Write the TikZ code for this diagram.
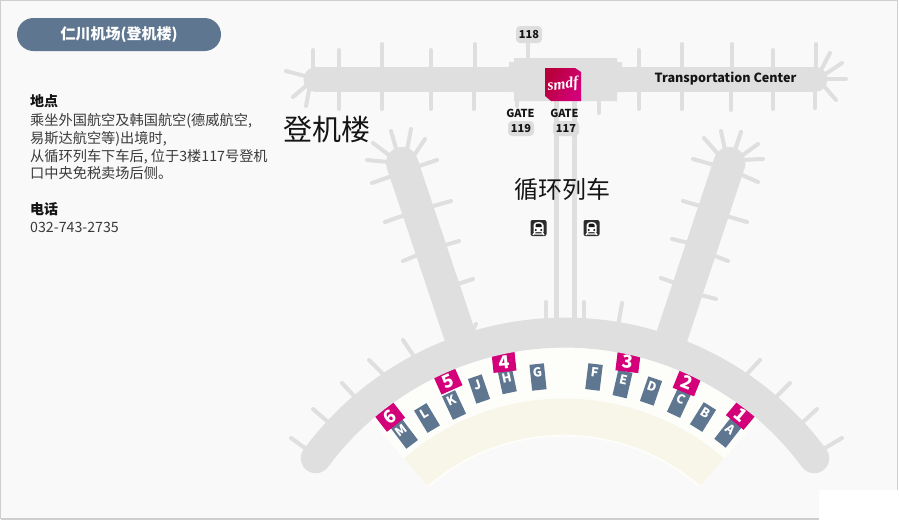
\documentclass[tikz,border=0pt]{standalone}
\usepackage{fontspec}
\setmainfont{Noto Sans CJK SC}
\newfontfamily\logofont{Liberation Serif}
\usetikzlibrary{calc}
\definecolor{bgc}{HTML}{F9F9F9}
\definecolor{framec}{HTML}{CFCFCF}
\definecolor{pierc}{HTML}{DFDFDF}
\definecolor{bandc}{HTML}{FDFEFA}
\definecolor{beigec}{HTML}{F8F5E9}
\definecolor{slatec}{HTML}{5F7690}
\definecolor{magc}{HTML}{D4007A}
\definecolor{txtc}{HTML}{3A3A3A}
\definecolor{darkc}{HTML}{151515}
\definecolor{tagc}{HTML}{DDDDDD}
\tikzset{
  tick/.style={draw=pierc,line width=4pt,line cap=round},
  body/.style={draw=pierc,line width=32pt},
  rail/.style={draw=pierc,line width=5pt},
  boxst/.style={fill=slatec,text=white,minimum width=14.5pt,minimum height=26pt,inner sep=0pt,font=\fontsize{12.5}{12.5}\selectfont\bfseries},
  badge/.style={fill=magc,text=white,minimum width=23pt,minimum height=19.5pt,inner sep=0pt,font=\fontsize{18}{18}\selectfont\bfseries},
  tag/.style={fill=tagc,rounded corners=4pt,text=darkc,minimum width=26pt,minimum height=17pt,inner sep=0pt,font=\fontsize{11}{11}\selectfont\bfseries},
  gatelbl/.style={text=darkc,inner sep=0pt,font=\fontsize{11}{11}\selectfont\bfseries},
  info/.style={anchor=base west,inner sep=0pt,text=txtc,font=\fontsize{14.2}{14.2}\selectfont},
  infohead/.style={anchor=base west,inner sep=0pt,text=darkc,font=\fontsize{14}{14}\selectfont\bfseries},
  bigtxt/.style={text=darkc,inner sep=0pt},
  traindark/.style={fill=darkc!90!white,rounded corners=2pt,minimum size=16pt,inner sep=0pt}
}
\newcommand{\gatebox}[5][0pt]{\node[boxst,rotate=#4] (box#5) at (#2,#3) {\smash{\raisebox{#1}{#5}}};}
\newcommand{\gatebadge}[4]{\node[badge,rotate=#3] (badge#4) at (#1,#2) {\smash{\raisebox{-6.5pt}{#4}}};}
\newcommand{\trainicon}[3]{%
  \node[traindark] (#1) at (#2,#3) {};
  \begin{scope}[shift={(#2,#3)}]
    \fill[white] (-5,4) -- (-5,-3) .. controls (-5,-7) and (5,-7) .. (5,-3) -- (5,4) -- cycle;
    \fill[darkc] (-3,-1) -- (-3,-3) .. controls (-3,-5) and (3,-5) .. (3,-3) -- (3,-1) -- cycle;
    \fill[darkc] (-2.8,2) circle (1.1) (2.8,2) circle (1.1);
    \draw[white,line width=1.3pt] (-3.5,4) -- (-5.5,7) (3.5,4) -- (5.5,7) (-4,6) -- (4,6);
  \end{scope}}
\begin{document}
\begin{tikzpicture}[x=1pt,y=-1pt]
\useasboundingbox (0,0) rectangle (899,520);
% background and frame
\fill[white] (0,0) rectangle (899,520);
\fill[bgc] (0,0) rectangle (898,519);
\draw[framec,line width=1.4pt] (0.7,519) -- (0.7,0.7) -- (897.6,0.7) -- (897.6,519) -- (0.7,519);
\fill[white] (819,490) rectangle (899,520);
% rails
\draw[rail] (556.5,100) -- (556.5,325);
\draw[rail] (574.5,100) -- (574.5,325);
% ticks
\foreach \xa/\ya/\xb/\yb in {
  313/67/313/50, 339/67/339/50, 382/67/382/44, 431/67/431/50, 475/67/475/44, 528/58/528/40,
  339/92/339/109, 381.5/92/381.5/109, 431/92/431/109, 473.5/92/473.5/109, 517/100/517/106, 599/100/599/113,
  310/85/306/106, 305/76/286/71, 307/85/293/97,
  639/67/639/50, 682/67/682/44, 732/67/732/44, 773/67/773/50, 816/67/816/44,
  639/92/639/109, 681.5/92/681.5/109, 731/92/731/110, 773/92/773/109, 815/92/815/108,
  820/72/830/53, 824/75/842/63, 826/79/846/79, 824/86/836/100,
  397/152/391/131, 407/150/411/129, 415/154/425/139, 416/167/437/160, 389/155/373/143, 388/162/367/160, 392/176/372/183,
  430/207/451/201, 405/215/385/222, 442/246/459/241, 420/254/403/261, 455/285/473/279, 473/330/476/324,
  718/154/704/138, 725/150/721/131, 735/150/741/132, 740/157/758/144, 741/160/763/159, 714/165/693/159, 742/175/758/182,
  700/206/683/201, 723/215/747/222, 689/243/672/239, 710/254/728/261, 675/283/661/278, 697/294/716/299,
  413/355/403/340, 382/373/369/360, 354/396/342/383, 328/422/313/409, 305/448/291/438,
  748/373/760/360, 777/396/790/383, 803/422/817/409, 825/448/842/438,
  546/322/546/302, 584/322/584/302, 618/326/622/303}
  {\draw[tick] (\xa,\ya) -- (\xb,\yb);}
% top concourse
\draw[pierc,line width=25pt,line cap=round] (316,79.5) -- (815,79.5);
\fill[pierc] (514,58) -- (617,58) -- (617,62) -- (622,62) -- (622,92) -- (617,92) -- (617,101) -- (514,101) -- (514,92) -- (509,92) -- (509,62) -- (514,62) -- cycle;
% piers
\draw[body,line cap=round] (402,163) -- (463,345);
\draw[body,line cap=round] (729.5,163) -- (669,345);
% shopping band
\fill[bandc] ([shift={(564,642.6)}]-131:297) arc[start angle=-131,end angle=-49,radius=297]
  -- ([shift={(564,642.6)}]-49:206) arc[start angle=-49,end angle=-131,radius=206] -- cycle;
\fill[beigec] ([shift={(564,642.6)}]-131:244) arc[start angle=-131,end angle=-49,radius=244]
  -- ([shift={(564,642.6)}]-49:208) arc[start angle=-49,end angle=-131,radius=208] -- cycle;
% gates
\gatebox{404.3}{434}{37}{M}
\gatebox{427}{418}{31}{L}
\gatebox{454}{405}{25}{K}
\gatebox{479}{389}{19}{J}
\gatebox[-2.6pt]{507}{380}{12}{H}
\gatebox{538}{377}{6}{G}
\gatebox{594}{377}{-7}{F}
\gatebox{622.5}{384}{-13}{E}
\gatebox{651}{391}{-19}{D}
\gatebox{679}{403}{-25}{C}
\gatebox{703}{417}{-32}{B}
\gatebox{728}{433}{-38}{A}
\gatebadge{390}{417}{38}{6}
\gatebadge{448}{381}{24}{5}
\gatebadge{504}{362}{6}{4}
\gatebadge{628}{362}{-7}{3}
\gatebadge{687}{383}{-22}{2}
\gatebadge{741}{415}{-40}{1}
% main arc
\draw[pierc,line width=30pt,line cap=round] ([shift={(565,642.6)}]-143.5:310) arc[start angle=-143.5,end angle=-36.5,radius=310];
% logo
\shade[left color=magc!60!red!80!black,right color=magc,shading angle=60]
  (545,68) -- (575,68) -- (581,72) -- (581,101) -- (551,101) -- (545,96) -- cycle;
\node[text=white,inner sep=0pt,rotate=8] (logo) at (563,85) {\logofont\fontsize{15.5}{15.5}\selectfont\bfseries\itshape smdf};
% labels
\node[tag] (t118) at (529,34.5) {118};
\node[gatelbl] (g119) at (520.5,113) {GATE};
\node[gatelbl] (g117) at (564.5,113) {GATE};
\node[tag,minimum height=15pt] (t119) at (521,128.5) {119};
\node[tag,minimum height=15pt] (t117) at (566,128.5) {117};
\node[text=darkc,inner sep=0pt,font=\fontsize{12.6}{12.6}\selectfont\bfseries] (tc) at (725.5,79) {Transportation Center};
\node[bigtxt,font=\fontsize{29}{29}\selectfont] (term) at (326.5,129) {登机楼};
\node[bigtxt,font=\fontsize{24}{24}\selectfont] (shuttle) at (562,189) {循环列车};
\trainicon{tr1}{538.5}{228}
\trainicon{tr2}{591.5}{228}
% header and info
\node[fill=slatec,rounded corners=16.5pt,minimum width=204pt,minimum height=33pt,inner sep=0pt,text=white,font=\fontsize{15}{15}\selectfont\bfseries] (pill) at (119,34.5) {仁川机场(登机楼)};
\node[infohead] (h1) at (30,106) {地点};
\node[info] (l1) at (30,125) {乘坐外国航空及韩国航空(德威航空,};
\node[info] (l2) at (30,143) {易斯达航空等)出境时,};
\node[info] (l3) at (30,161) {从循环列车下车后, 位于3楼117号登机};
\node[info] (l4) at (30,178) {口中央免税卖场后侧。};
\node[infohead] (h2) at (30,214) {电话};
\node[info] (l5) at (30,232) {032-743-2735};
\end{tikzpicture}
\end{document}
